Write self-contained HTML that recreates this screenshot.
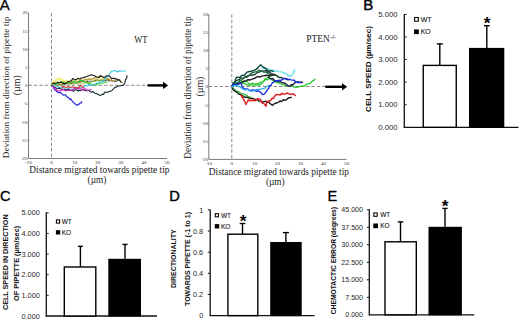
<!DOCTYPE html>
<html><head><meta charset="utf-8">
<style>
html,body{margin:0;padding:0;background:#fff;width:520px;height:320px;overflow:hidden}
svg{display:block}
.serif{font-family:"Liberation Serif",serif}
.sans{font-family:"Liberation Sans",sans-serif}
.tk{font-family:"Liberation Serif",serif;font-size:5px;fill:#333}
.bt{font-family:"Liberation Sans",sans-serif;font-size:7.4px;fill:#262626}
.lab{font-family:"Liberation Sans",sans-serif;font-weight:bold;fill:#111}
.leg{font-family:"Liberation Sans",sans-serif;font-size:7px;fill:#1a1a1a;stroke:#1a1a1a;stroke-width:0.12px}
.big{font-family:"Liberation Sans",sans-serif;font-size:14.6px;fill:#000}
.tr{fill:none;stroke-linejoin:round;stroke-linecap:round}
</style></head>
<body>
<svg width="520" height="320" viewBox="0 0 520 320">
<text class="big" x="-0.2" y="10.4" style="font-size:15px" stroke="#000" stroke-width="0.3">A</text>
<line x1="28.5" y1="12.7" x2="28.5" y2="158.5" stroke="#7a7a7a" stroke-width="1"/>
<line x1="28.5" y1="158.5" x2="167" y2="158.5" stroke="#7a7a7a" stroke-width="1"/>
<line x1="51.5" y1="13.2" x2="51.5" y2="158.5" stroke="#8a8a8a" stroke-width="1" stroke-dasharray="3.4,2"/>
<line x1="28.5" y1="85.3" x2="147.5" y2="85.3" stroke="#8a8a8a" stroke-width="1" stroke-dasharray="3.4,2"/>
<line x1="147.5" y1="85.4" x2="164.2" y2="85.4" stroke="#000" stroke-width="2.4"/>
<path d="M163.0,81.80000000000001 L168.2,85.4 L163.0,89.0 Z" fill="#000"/>
<text class="tk" x="27.6" y="14.3" text-anchor="end">20</text>
<text class="tk" x="27.6" y="32.5" text-anchor="end">15</text>
<line x1="28.5" y1="30.9" x2="29.7" y2="30.9" stroke="#888" stroke-width="0.6"/>
<text class="tk" x="27.6" y="50.8" text-anchor="end">10</text>
<line x1="28.5" y1="49.2" x2="29.7" y2="49.2" stroke="#888" stroke-width="0.6"/>
<text class="tk" x="27.6" y="69.0" text-anchor="end">5</text>
<line x1="28.5" y1="67.4" x2="29.7" y2="67.4" stroke="#888" stroke-width="0.6"/>
<text class="tk" x="27.6" y="87.2" text-anchor="end">0</text>
<line x1="28.5" y1="85.6" x2="29.7" y2="85.6" stroke="#888" stroke-width="0.6"/>
<text class="tk" x="27.6" y="105.4" text-anchor="end">-5</text>
<line x1="28.5" y1="103.8" x2="29.7" y2="103.8" stroke="#888" stroke-width="0.6"/>
<text class="tk" x="27.6" y="123.7" text-anchor="end">-10</text>
<line x1="28.5" y1="122.1" x2="29.7" y2="122.1" stroke="#888" stroke-width="0.6"/>
<text class="tk" x="27.6" y="141.9" text-anchor="end">-15</text>
<line x1="28.5" y1="140.3" x2="29.7" y2="140.3" stroke="#888" stroke-width="0.6"/>
<text class="tk" x="27.6" y="160.1" text-anchor="end">-20</text>
<text class="tk" x="28.5" y="163.7" text-anchor="middle">-10</text>
<text class="tk" x="51.6" y="163.7" text-anchor="middle">0</text>
<text class="tk" x="74.7" y="163.7" text-anchor="middle">10</text>
<text class="tk" x="97.8" y="163.7" text-anchor="middle">20</text>
<text class="tk" x="120.8" y="163.7" text-anchor="middle">30</text>
<text class="tk" x="143.9" y="163.7" text-anchor="middle">40</text>
<text class="tk" x="167.0" y="163.7" text-anchor="middle">50</text>
<polyline class="tr" stroke="#eeee78" stroke-width="2.15" points="52.0,84.5 52.6,83.6 54.3,81.1 55.2,80.4 56.7,80.0 58.6,78.4 60.6,79.6 61.8,79.4 62.7,81.5 63.7,82.8 65.8,81.5 66.2,82.7 68.0,83.0"/>
<polyline class="tr" stroke="#e8e070" stroke-width="1.05" points="52.0,84.0 52.9,83.9 54.8,84.0 55.8,82.3 57.6,82.6 58.5,82.2 59.9,82.0 61.0,80.9 63.3,81.0 64.0,81.6 65.9,80.3 67.2,81.1 68.2,80.9 69.6,80.2 71.0,79.9 73.4,80.2 74.8,80.2 75.8,80.9 77.3,79.4 78.7,80.3 79.7,79.3 81.8,80.0 82.5,79.8 84.0,80.3 85.7,79.0 87.5,78.9 88.3,78.7 90.3,78.8 91.5,78.7 92.8,79.7 94.3,79.2 95.7,79.1 97.2,78.4 98.5,78.6 100.4,79.8 101.0,78.4 103.1,79.3 103.8,79.6 106.2,79.1 107.0,79.5 109.0,79.0 110.0,79.5"/>
<polyline class="tr" stroke="#303030" stroke-width="0.95" points="52.0,85.0 53.5,85.3 55.1,84.3 55.4,85.3 57.0,84.4 58.8,83.9 60.2,84.4 60.6,85.1 62.5,83.4 64.1,84.6 65.3,84.3 67.0,83.0 68.4,84.0 69.0,83.8 70.5,83.7 72.4,83.3 73.1,82.9 74.8,83.4 76.9,83.4 77.9,82.1 79.5,82.1 81.3,81.8 82.6,81.4 83.9,81.9 85.1,81.8 86.2,81.7 88.2,81.4 89.1,82.1 90.4,81.2 92.2,81.3 93.2,81.6 95.0,80.3 96.3,80.1 97.7,80.0 99.0,80.7 100.9,80.1 102.1,80.3 103.7,80.9 104.7,80.5 106.5,80.9 108.1,79.4 108.8,81.0 110.5,80.8 111.7,80.8 113.5,80.8 114.5,81.7 117.0,81.1 118.5,79.8 120.0,80.0"/>
<polyline class="tr" stroke="#a0d030" stroke-width="0.95" points="52.0,85.0 53.3,85.6 54.3,84.5 56.7,85.1 57.1,84.4 59.3,84.5 59.8,85.3 61.3,84.7 63.2,84.3 65.0,83.7 66.0,83.5 67.7,83.5 68.6,84.7 70.4,83.3 71.8,84.5 72.5,84.3 73.8,83.1 75.1,83.3 77.2,83.5 78.7,84.2 79.2,83.2 80.4,83.4 82.4,83.3 83.2,83.3 84.6,83.6 86.3,82.1 88.2,83.3 88.9,83.1 90.2,82.2 91.9,82.4 92.7,80.8 94.2,81.2 96.2,81.6 96.8,81.4 98.3,79.9 100.0,81.2 102.1,80.1 103.7,79.3 105.0,79.5"/>
<polyline class="tr" stroke="#b08830" stroke-width="1.05" points="52.0,85.0 53.6,85.6 55.0,85.1 57.0,84.7 58.3,84.9 59.8,83.6 60.4,85.2 62.5,83.8 63.9,83.5 64.8,83.9 66.1,83.0 67.8,83.7 69.0,83.4 71.1,82.0 71.8,81.8 73.5,82.1 74.6,81.5 76.3,82.2 77.3,82.1 78.4,81.0 80.5,80.5 80.9,79.9 82.9,81.1 83.5,80.2 85.2,79.7 86.4,79.5 87.6,80.3 89.2,79.3 91.2,79.3 92.5,78.8 94.5,77.9 95.0,77.7 96.9,77.5 97.8,76.5 98.9,77.1 100.3,76.3 102.0,76.6 103.7,78.2 105.6,78.1 106.7,79.4 108.6,78.5 109.7,80.4 111.3,79.8 112.6,81.0 114.2,80.2 116.2,79.9 117.6,79.6 119.6,79.9 121.1,82.3 122.5,82.6"/>
<polyline class="tr" stroke="#2cc82c" stroke-width="1.05" points="52.0,84.0 52.9,83.7 54.4,83.6 55.7,84.2 57.4,83.8 59.1,83.2 60.0,82.3 61.8,82.1 62.9,82.2 64.7,82.6 66.0,82.7 67.8,83.3 68.7,83.0 70.4,82.6 72.1,81.6 72.8,82.0 74.5,81.4 76.0,82.3 78.5,82.0 80.1,81.0 81.4,80.8 82.8,80.8 85.0,81.8 86.4,82.5 87.1,83.4 88.7,83.2 89.9,83.4 91.9,84.6 92.6,84.8 94.7,84.8 96.0,84.7 98.1,83.7 98.8,83.7 100.3,83.2 102.4,83.1 103.8,82.7 104.6,82.3 107.0,81.9"/>
<polyline class="tr" stroke="#30c8e0" stroke-width="1.05" points="52.0,85.5 53.1,85.6 54.6,85.8 56.7,86.0 57.8,86.5 59.9,87.2 60.6,87.2 62.6,87.4 63.9,87.6 64.7,88.7 65.9,88.9 67.6,88.7 69.2,87.6 70.1,87.8 71.6,88.0 73.3,87.9 75.2,88.1 76.1,87.2 78.2,87.9 80.0,86.9 80.7,88.0 82.3,87.7 84.5,86.7 85.7,85.6 87.4,86.0 88.5,84.5 90.2,85.1 91.4,85.4 93.5,84.8 94.1,84.8 95.5,84.0 97.5,83.0 98.4,82.3 99.6,81.9 101.3,82.1 102.8,81.5 104.0,80.3 104.5,78.7 106.1,77.8 107.7,76.1 108.5,75.5 109.1,74.9 110.3,72.6 111.9,71.2 113.5,71.0 114.2,70.5 116.1,71.0 117.6,72.0 118.1,71.1 120.2,71.1 121.8,71.0 122.7,71.2 124.5,71.0 125.6,70.8"/>
<polyline class="tr" stroke="#1c2c34" stroke-width="1.15" points="52.0,86.0 53.2,86.6 54.7,87.2 56.3,88.3 57.9,88.4 59.4,88.1 61.4,89.4 62.7,89.0 63.9,89.8 66.2,89.6 67.1,89.7 69.1,89.2 70.4,90.4 72.3,90.6 73.7,91.2 75.3,89.7 76.4,89.8 78.4,91.1 79.1,90.0 80.5,90.6 82.2,89.3 83.8,89.5 84.8,90.6 87.1,90.8 88.8,90.7 89.5,90.8 91.6,92.4 92.7,91.4 94.9,93.2 96.3,93.5 97.2,93.9 98.6,94.8 100.7,95.4 102.7,94.0 103.5,94.4 104.9,92.0 107.2,92.2 109.0,91.6 110.3,91.2 112.0,90.4 113.0,89.3 114.8,87.3 116.0,87.1 118.1,86.2 119.9,85.8 121.0,85.7 122.3,85.4 123.8,84.9 124.4,83.8 125.2,82.2 125.3,80.2 126.7,78.2 127.0,75.6"/>
<polyline class="tr" stroke="#2020d8" stroke-width="1.15" points="52.0,86.0 53.4,87.0 54.3,89.3 54.8,90.1 55.8,90.2 57.3,92.1 58.6,92.7 60.3,92.5 61.9,93.6 63.3,95.2 65.2,94.7 66.4,96.2 67.5,97.4 68.3,97.4 70.1,99.7 70.9,99.0 72.3,101.1 74.2,103.2 76.0,104.4 76.5,105.1 78.0,104.9 78.9,104.3 80.2,102.8 81.4,102.8 81.8,101.8"/>
<polyline class="tr" stroke="#d020d0" stroke-width="1.15" points="52.0,86.0 53.2,86.4 53.6,87.8 55.3,88.6 56.8,90.2 57.7,91.2 59.2,90.8 60.8,90.9 61.9,89.6 63.0,89.6 65.6,91.0 66.9,90.5 68.2,90.4 69.8,90.2 72.3,89.9 74.3,88.7 75.2,87.9 77.7,88.5 78.1,89.0 79.5,87.9 81.9,89.9 82.8,90.1 84.0,89.0 86.0,89.1 86.5,90.1 88.3,90.0 90.1,89.9 91.0,89.7"/>
<polyline class="tr" stroke="#e02828" stroke-width="1.05" points="62.0,86.5 63.1,87.2 64.2,86.4 65.9,87.7 67.2,87.2 68.2,86.5 70.2,87.3 71.6,87.3 72.7,87.1 73.7,87.0 75.3,87.6 77.4,87.9 78.8,87.3 80.3,85.1 82.4,87.0 84.0,88.2"/>
<polyline class="tr" stroke="#202020" stroke-width="1.15" points="52.0,83.3 53.7,83.1 56.0,83.4 57.6,82.1 58.9,82.8 60.7,82.1 62.4,82.9 64.7,83.9 65.7,83.7 66.9,82.4 67.9,81.6 69.6,81.6 70.8,81.0 71.8,80.2 72.7,78.4 74.6,79.7 76.2,79.6 78.1,78.3 79.8,79.1 81.0,78.0 82.9,78.0 83.6,77.3 84.7,77.3 87.3,76.2 89.3,75.5 91.5,74.8 94.5,75.7 96.0,76.8 97.6,77.3 99.5,77.5 100.1,75.6 103.3,77.0 104.5,77.4 106.7,75.8 108.7,75.7 110.7,77.3 111.5,78.7 113.9,78.1 114.9,78.9 116.4,78.8 117.4,79.6 119.3,80.1 121.0,82.0"/>
<text class="serif" x="134.3" y="42.5" font-size="9.4" fill="#222" textLength="13.3" lengthAdjust="spacingAndGlyphs">WT</text>
<text class="serif" x="29.3" y="173" font-size="9.35" fill="#222">Distance migrated towards pipette tip</text>
<text class="serif" x="97" y="183.2" font-size="9.3" fill="#222" text-anchor="middle">(&#181;m)</text>
<text class="serif" transform="translate(8.7,87.4) rotate(-90)" font-size="9.27" fill="#222" text-anchor="middle">Deviation from direction of pipette tip</text>
<text class="serif" transform="translate(19.7,85.3) rotate(-90)" font-size="9.9" fill="#222" text-anchor="middle">(&#181;m)</text>
<line x1="208.8" y1="14" x2="208.8" y2="159.4" stroke="#7a7a7a" stroke-width="1"/>
<line x1="208.8" y1="159.4" x2="346.5" y2="159.4" stroke="#7a7a7a" stroke-width="1"/>
<line x1="231.8" y1="14.5" x2="231.8" y2="159.4" stroke="#8a8a8a" stroke-width="1" stroke-dasharray="3.4,2"/>
<line x1="208.8" y1="86.5" x2="325.2" y2="86.5" stroke="#8a8a8a" stroke-width="1" stroke-dasharray="3.4,2"/>
<line x1="325.2" y1="86.8" x2="343.2" y2="86.8" stroke="#000" stroke-width="2.4"/>
<path d="M342.0,83.2 L347.2,86.8 L342.0,90.39999999999999 Z" fill="#000"/>
<text class="tk" x="207.9" y="15.6" text-anchor="end">20</text>
<text class="tk" x="207.9" y="33.8" text-anchor="end">15</text>
<line x1="208.8" y1="32.2" x2="210.0" y2="32.2" stroke="#888" stroke-width="0.6"/>
<text class="tk" x="207.9" y="52.0" text-anchor="end">10</text>
<line x1="208.8" y1="50.4" x2="210.0" y2="50.4" stroke="#888" stroke-width="0.6"/>
<text class="tk" x="207.9" y="70.1" text-anchor="end">5</text>
<line x1="208.8" y1="68.5" x2="210.0" y2="68.5" stroke="#888" stroke-width="0.6"/>
<text class="tk" x="207.9" y="88.3" text-anchor="end">0</text>
<line x1="208.8" y1="86.7" x2="210.0" y2="86.7" stroke="#888" stroke-width="0.6"/>
<text class="tk" x="207.9" y="106.5" text-anchor="end">-5</text>
<line x1="208.8" y1="104.9" x2="210.0" y2="104.9" stroke="#888" stroke-width="0.6"/>
<text class="tk" x="207.9" y="124.7" text-anchor="end">-10</text>
<line x1="208.8" y1="123.1" x2="210.0" y2="123.1" stroke="#888" stroke-width="0.6"/>
<text class="tk" x="207.9" y="142.8" text-anchor="end">-15</text>
<line x1="208.8" y1="141.2" x2="210.0" y2="141.2" stroke="#888" stroke-width="0.6"/>
<text class="tk" x="207.9" y="161.0" text-anchor="end">-20</text>
<text class="tk" x="208.8" y="164.6" text-anchor="middle">-10</text>
<text class="tk" x="231.8" y="164.6" text-anchor="middle">0</text>
<text class="tk" x="254.7" y="164.6" text-anchor="middle">10</text>
<text class="tk" x="277.6" y="164.6" text-anchor="middle">20</text>
<text class="tk" x="300.6" y="164.6" text-anchor="middle">30</text>
<text class="tk" x="323.6" y="164.6" text-anchor="middle">40</text>
<text class="tk" x="346.5" y="164.6" text-anchor="middle">50</text>
<polyline class="tr" stroke="#60e0f0" stroke-width="1.30" points="262.0,68.0 263.5,68.0 265.1,68.2 266.5,69.7 267.7,69.1 269.6,69.1 270.7,70.5 273.1,70.0 274.1,71.3 275.8,70.9 277.6,71.2 279.4,71.8 280.8,71.9 282.0,72.2 282.9,72.1 284.0,73.7 285.5,73.2 287.0,74.3 288.2,75.4 289.8,76.5 291.2,75.6 292.4,74.8 293.1,73.7 293.5,72.6 293.9,71.1 294.7,69.8"/>
<polyline class="tr" stroke="#28c028" stroke-width="1.30" points="233.0,87.0 234.1,85.7 235.5,85.0 236.0,84.3 237.0,82.6 238.6,83.2 240.8,83.2 241.8,83.5 243.9,82.8 244.6,83.7 246.4,84.6 248.6,85.0 249.9,85.0 251.9,85.2 253.3,84.8 255.0,84.7 255.9,85.3 257.9,84.5 259.1,85.2 260.8,84.4 262.3,82.9 263.9,81.4 265.4,79.4 267.2,79.9 268.1,79.2 269.9,78.0 271.7,79.7 272.5,80.3 274.1,80.2 274.8,81.5 276.3,82.4 277.8,82.5 279.8,83.6 281.3,83.9 282.2,84.7 283.3,84.8 284.7,85.1 286.2,85.9 287.7,85.4 289.1,86.0 290.1,86.5 291.7,85.5 293.0,86.1 294.3,87.2 296.3,87.4 297.8,86.9 299.1,86.9 301.0,86.0 302.8,86.1 303.7,86.2 305.2,85.7 306.4,84.1 308.8,83.8 310.7,82.8 311.8,81.5 313.4,80.7 315.0,79.2"/>
<polyline class="tr" stroke="#3cc83c" stroke-width="1.30" points="236.0,83.0 237.6,83.3 239.1,82.0 240.9,81.6 242.2,82.3 243.7,81.1 245.3,81.1 246.7,81.5 248.1,82.8 249.6,83.9 251.2,83.6 252.5,83.2 254.1,83.8 255.2,84.1 257.2,83.4 258.4,83.8 259.2,83.3 260.4,81.8 262.3,82.6 263.0,81.7 264.1,80.5 265.0,78.9 266.9,78.1 268.0,77.5 269.7,76.6 270.9,76.1 272.6,74.7 274.1,74.9 275.0,74.7 276.8,75.7 278.0,76.0"/>
<polyline class="tr" stroke="#1a3a36" stroke-width="1.30" points="233.0,84.0 233.6,83.1 235.4,81.5 236.3,80.5 236.9,80.6 238.2,79.8 239.3,79.5 241.0,77.8 242.0,78.1 243.7,77.8 245.1,76.8 245.9,76.4 247.5,77.0 248.9,75.6 250.1,75.4 250.8,74.9 252.2,75.4 253.5,74.6 255.2,74.5 256.5,73.1 257.9,72.4 259.3,72.2 261.0,70.7 262.4,71.1 263.4,71.2 264.5,70.9 266.1,70.6 267.6,72.0 268.5,72.0 270.3,72.7 271.1,73.7 272.3,73.8 273.8,75.1 275.6,74.9 276.8,75.9 277.5,76.6 279.2,77.3 280.0,77.8 281.4,77.3 282.8,78.6 284.5,78.5 285.1,78.6 286.5,79.3 288.0,80.0"/>
<polyline class="tr" stroke="#38b838" stroke-width="1.30" points="233.0,88.0 234.7,89.7 236.7,91.3 238.3,91.5 239.6,92.4 241.1,93.5 243.6,94.2 245.8,95.1 246.6,95.1 247.7,96.5 249.6,97.0 250.9,97.5"/>
<polyline class="tr" stroke="#104a40" stroke-width="1.40" points="231.9,86.3 232.9,84.4 233.0,82.9 234.2,82.5 235.0,81.0 235.3,79.9 235.8,78.5 237.1,77.1 239.3,77.4 240.6,76.8 241.6,75.5 243.9,75.3 244.9,74.8 245.7,73.7 247.1,72.1 249.2,71.5 251.5,71.3 253.8,70.5 256.1,69.4 257.9,67.9 258.9,66.5 260.8,64.7 262.1,66.4 264.4,67.7 265.5,68.4 266.6,68.9 267.3,70.4 268.7,71.2 270.9,70.7 273.3,71.4"/>
<polyline class="tr" stroke="#1e6a3a" stroke-width="1.30" points="231.9,86.3 233.6,85.1 234.5,84.1 235.6,83.3 237.5,82.7 238.6,82.5 239.5,80.7 240.2,80.2 241.9,80.0 243.8,78.3 244.6,77.5 246.6,77.3 247.4,75.7 248.7,75.5 250.4,74.1 251.5,73.1 252.7,72.6 253.9,72.3 255.2,71.9 256.5,71.7 257.5,71.5 258.9,70.1 260.1,70.9 261.8,71.1 264.0,72.2 265.9,72.1 267.3,72.9 268.6,73.8 270.4,75.1 271.5,75.5 273.7,75.0 274.9,74.5"/>
<polyline class="tr" stroke="#202020" stroke-width="1.40" points="232.0,86.0 233.3,84.9 234.9,84.6 236.2,83.9 237.1,84.2 238.8,84.1 239.9,82.7 241.2,82.8 242.9,81.6 244.2,81.3 245.1,81.3 246.5,80.6 247.8,79.7 249.5,80.0 251.8,79.4 253.4,78.6 255.0,78.2 256.7,76.9 258.3,76.8 260.4,77.0 262.0,75.9 264.2,75.7 266.7,75.3 268.8,75.8 270.9,75.0 272.4,74.6 274.4,74.5"/>
<polyline class="tr" stroke="#20204a" stroke-width="1.40" points="268.5,77.0 269.6,78.3 271.1,78.9 272.8,78.5 274.4,80.4 275.9,81.0 277.6,81.0 279.3,81.9 280.9,81.7 282.1,82.7 283.9,83.0 285.5,83.5 286.8,85.0 288.4,85.8 289.7,86.3 291.5,84.6 293.0,84.7 294.9,82.7 296.1,82.4 297.7,81.7 299.1,82.3 301.3,82.5 302.5,82.3"/>
<polyline class="tr" stroke="#2030e0" stroke-width="1.40" points="231.9,86.3 233.8,84.4 235.9,84.7 238.4,83.8 240.8,83.0 241.6,84.8 242.0,86.8 243.4,88.1 245.2,89.1 247.2,89.0 248.5,89.6 249.6,90.7 251.2,90.3 253.6,90.0 255.0,90.6 256.5,91.4 257.7,90.7 259.2,91.4 260.9,92.4 262.2,94.5 264.0,94.2 265.6,92.7 266.6,91.0 268.2,88.9 268.8,88.0 269.4,85.9 270.8,85.3 272.3,82.9 274.5,81.4 276.0,80.7 277.9,81.0 279.2,80.2 280.7,80.6 282.8,79.0 285.0,78.3 287.1,78.9 288.4,79.5 289.9,79.4 291.2,79.9 294.2,80.3 296.0,82.0 298.4,82.7 300.9,82.3"/>
<polyline class="tr" stroke="#30b0e8" stroke-width="1.30" points="231.9,86.3 232.9,86.4 234.6,85.6 237.0,85.6 238.3,86.3 240.4,87.2 241.6,88.1 243.5,89.4 245.3,90.0 246.4,89.7 248.5,89.6 249.5,90.6 251.8,91.1 253.0,91.1 254.4,90.2 255.6,89.8 257.3,89.3 259.3,89.3 260.4,89.4 261.8,88.7 264.0,88.7 265.4,87.4 266.9,86.3 268.6,85.5"/>
<polyline class="tr" stroke="#202020" stroke-width="1.40" points="232.0,88.0 233.1,89.5 234.2,90.7 235.0,91.0 235.8,91.7 237.8,93.0 239.2,94.4 239.9,94.3 241.8,95.5 242.7,95.8 244.1,97.0 245.3,97.3 246.6,97.1 248.5,97.8 249.8,98.4 251.2,98.6 252.2,98.2 253.6,98.9 255.2,99.5 256.4,99.4 257.9,99.9 258.6,101.0 260.0,101.1 261.9,101.4 263.0,102.1 264.1,101.6 266.0,101.2 267.1,102.4 268.3,102.0 270.5,103.9 272.7,105.3 274.3,103.7 276.3,103.0 278.0,102.3 278.9,101.9 280.4,100.9 281.6,101.6 283.2,99.8 284.8,100.2 285.9,100.0 287.3,98.9 289.2,97.7 291.3,97.5"/>
<polyline class="tr" stroke="#e02020" stroke-width="1.45" points="241.0,95.0 241.4,96.0 242.8,98.1 243.7,99.6 243.8,99.9 245.2,102.4 245.9,104.5 247.0,102.5 248.3,99.9 249.5,100.7 250.9,100.3 252.6,100.5 253.4,100.3 255.3,100.7 256.4,99.9 257.4,98.7 259.0,99.2 260.4,99.3 260.6,100.3 261.7,102.3 263.1,103.3 264.3,103.8 266.0,106.3 266.7,103.0 268.1,101.2 270.5,100.5 272.2,98.3 273.4,98.5 274.8,96.2 275.1,95.2 276.5,94.7 278.1,94.4 279.5,94.9 280.3,94.9 281.9,93.4 283.4,94.2 284.7,93.9 285.8,94.0 287.3,92.9 288.5,93.6 289.7,94.0 291.0,94.6 292.7,93.7 293.9,94.4 295.3,95.5"/>
<text class="serif" x="306.3" y="41.9" font-size="9.4" fill="#222">PTEN</text>
<text class="serif" x="330.2" y="39.2" font-size="6" fill="#222" stroke="#222" stroke-width="0.15">-/-</text>
<text class="serif" x="208.8" y="175.4" font-size="9.35" fill="#222">Distance migrated towards pipette tip</text>
<text class="serif" x="275.3" y="185.2" font-size="9.3" fill="#222" text-anchor="middle">(&#181;m)</text>
<text class="serif" transform="translate(190.6,87.6) rotate(-90)" font-size="9.3" fill="#222" text-anchor="middle">Deviation from direction of pipette tip</text>
<text class="serif" transform="translate(202.6,86.6) rotate(-90)" font-size="9.9" fill="#222" text-anchor="middle">(&#181;m)</text>

<!-- panel B -->
<text class="big" x="363.3" y="10.4" stroke="#000" stroke-width="0.45" style="font-size:15px">B</text>
<line x1="404.3" y1="13.9" x2="404.3" y2="127.8" stroke="#111" stroke-width="1.3"/>
<line x1="403.8" y1="127.3" x2="518.5" y2="127.3" stroke="#111" stroke-width="1.3"/>
<text class="bt" x="397.6" y="130.06" text-anchor="end" style="font-size:7.7px">0.000</text>
<line x1="404.3" y1="104.72" x2="406.70" y2="104.72" stroke="#1a1a1a" stroke-width="1"/>
<text class="bt" x="397.6" y="107.48" text-anchor="end" style="font-size:7.7px">1.000</text>
<line x1="404.3" y1="82.14" x2="406.70" y2="82.14" stroke="#1a1a1a" stroke-width="1"/>
<text class="bt" x="397.6" y="84.90" text-anchor="end" style="font-size:7.7px">2.000</text>
<line x1="404.3" y1="59.56" x2="406.70" y2="59.56" stroke="#1a1a1a" stroke-width="1"/>
<text class="bt" x="397.6" y="62.32" text-anchor="end" style="font-size:7.7px">3.000</text>
<line x1="404.3" y1="36.98" x2="406.70" y2="36.98" stroke="#1a1a1a" stroke-width="1"/>
<text class="bt" x="397.6" y="39.74" text-anchor="end" style="font-size:7.7px">4.000</text>
<line x1="404.3" y1="14.40" x2="406.70" y2="14.40" stroke="#1a1a1a" stroke-width="1"/>
<text class="bt" x="397.6" y="17.16" text-anchor="end" style="font-size:7.7px">5.000</text>
<text class="lab" transform="translate(370.8,69) rotate(-90)" font-size="8.1" text-anchor="middle">CELL SPEED (&#181;m/sec)</text>
<line x1="439.8" y1="65.4" x2="439.8" y2="43.9" stroke="#000" stroke-width="1.4"/>
<line x1="436.8" y1="43.9" x2="442.8" y2="43.9" stroke="#000" stroke-width="1.4"/>
<rect x="423.25" y="65.4" width="33.0" height="61.89999999999999" fill="#fff" stroke="#000" stroke-width="1.4"/>
<line x1="486.8" y1="47.9" x2="486.8" y2="25.7" stroke="#000" stroke-width="1.4"/>
<line x1="483.90000000000003" y1="25.7" x2="489.7" y2="25.7" stroke="#000" stroke-width="1.4"/>
<rect x="469" y="47.9" width="35.30000000000001" height="79.9" fill="#000"/>
<text class="sans" x="483.85" y="28.90" font-size="17.3" font-weight="bold" fill="#000">*</text>
<rect x="414.6" y="17.5" width="3.7" height="3.7" fill="#fff" stroke="#000" stroke-width="1.05"/>
<text class="leg" x="420.7" y="21.86" style="font-size:7.0px">WT</text>
<rect x="414.1" y="29.4" width="4.7" height="4.7" fill="#000"/>
<text class="leg" x="420.7" y="34.26" style="font-size:7.0px">KO</text>

<!-- panel C -->
<text class="big" x="-0.1" y="200.7" stroke="#000" stroke-width="0.3">C</text>
<line x1="46.3" y1="212.3" x2="46.3" y2="316.5" stroke="#111" stroke-width="1.3"/>
<line x1="45.8" y1="316" x2="157" y2="316" stroke="#111" stroke-width="1.3"/>
<text class="bt" x="39.8" y="318.61" text-anchor="end" style="font-size:7.3px">0.000</text>
<line x1="46.3" y1="295.36" x2="48.70" y2="295.36" stroke="#1a1a1a" stroke-width="1"/>
<text class="bt" x="39.8" y="297.97" text-anchor="end" style="font-size:7.3px">1.000</text>
<line x1="46.3" y1="274.72" x2="48.70" y2="274.72" stroke="#1a1a1a" stroke-width="1"/>
<text class="bt" x="39.8" y="277.33" text-anchor="end" style="font-size:7.3px">2.000</text>
<line x1="46.3" y1="254.08" x2="48.70" y2="254.08" stroke="#1a1a1a" stroke-width="1"/>
<text class="bt" x="39.8" y="256.69" text-anchor="end" style="font-size:7.3px">3.000</text>
<line x1="46.3" y1="233.44" x2="48.70" y2="233.44" stroke="#1a1a1a" stroke-width="1"/>
<text class="bt" x="39.8" y="236.05" text-anchor="end" style="font-size:7.3px">4.000</text>
<line x1="46.3" y1="212.80" x2="48.70" y2="212.80" stroke="#1a1a1a" stroke-width="1"/>
<text class="bt" x="39.8" y="215.41" text-anchor="end" style="font-size:7.3px">5.000</text>
<text class="lab" transform="translate(8.2,262.2) rotate(-90)" font-size="7.2" text-anchor="middle">CELL SPEED IN DIRECTION</text>
<text class="lab" transform="translate(19.2,263.4) rotate(-90)" font-size="7.4" text-anchor="middle">OF PIPETTE (&#181;m/sec)</text>
<line x1="80.4" y1="267" x2="80.4" y2="246.3" stroke="#000" stroke-width="1.4"/>
<line x1="78.0" y1="246.3" x2="82.80000000000001" y2="246.3" stroke="#000" stroke-width="1.4"/>
<rect x="64.3" y="267" width="31.5" height="49" fill="#fff" stroke="#000" stroke-width="1.4"/>
<line x1="125" y1="258.8" x2="125" y2="244.4" stroke="#000" stroke-width="1.4"/>
<line x1="122.4" y1="244.4" x2="127.6" y2="244.4" stroke="#000" stroke-width="1.4"/>
<rect x="108.3" y="258.8" width="32.7" height="57.69999999999999" fill="#000"/>
<rect x="56.4" y="219.9" width="3.2" height="3.2" fill="#fff" stroke="#000" stroke-width="1.05"/>
<text class="leg" x="61.7" y="223.83" style="font-size:6.5px">WT</text>
<rect x="55.9" y="230.2" width="4.3" height="4.3" fill="#000"/>
<text class="leg" x="61.7" y="234.68" style="font-size:6.5px">KO</text>

<!-- panel D -->
<text class="big" x="169.2" y="200.7" stroke="#000" stroke-width="0.45">D</text>
<line x1="210.2" y1="209.4" x2="210.2" y2="316.1" stroke="#111" stroke-width="1.3"/>
<line x1="209.7" y1="315.6" x2="314.5" y2="315.6" stroke="#111" stroke-width="1.3"/>
<text class="bt" x="203.2" y="318.21" text-anchor="end" style="font-size:7.3px">0</text>
<line x1="210.2" y1="294.46" x2="207.80" y2="294.46" stroke="#1a1a1a" stroke-width="1"/>
<text class="bt" x="203.2" y="297.07" text-anchor="end" style="font-size:7.3px">0.2</text>
<line x1="210.2" y1="273.32" x2="207.80" y2="273.32" stroke="#1a1a1a" stroke-width="1"/>
<text class="bt" x="203.2" y="275.93" text-anchor="end" style="font-size:7.3px">0.4</text>
<line x1="210.2" y1="252.18" x2="207.80" y2="252.18" stroke="#1a1a1a" stroke-width="1"/>
<text class="bt" x="203.2" y="254.79" text-anchor="end" style="font-size:7.3px">0.6</text>
<line x1="210.2" y1="231.04" x2="207.80" y2="231.04" stroke="#1a1a1a" stroke-width="1"/>
<text class="bt" x="203.2" y="233.65" text-anchor="end" style="font-size:7.3px">0.8</text>
<line x1="210.2" y1="209.90" x2="207.80" y2="209.90" stroke="#1a1a1a" stroke-width="1"/>
<text class="bt" x="203.2" y="212.51" text-anchor="end" style="font-size:7.3px">1</text>
<text class="lab" transform="translate(176.4,258.6) rotate(-90)" font-size="7" text-anchor="middle">DIRECTIONALITY</text>
<text class="lab" transform="translate(189.6,259) rotate(-90)" font-size="7" text-anchor="middle">TOWARDS PIPETTE (-1 to 1)</text>
<line x1="242.5" y1="234.2" x2="242.5" y2="223.5" stroke="#000" stroke-width="1.4"/>
<line x1="239.7" y1="223.5" x2="245.3" y2="223.5" stroke="#000" stroke-width="1.4"/>
<rect x="227.9" y="234.2" width="29.900000000000006" height="81.40000000000003" fill="#fff" stroke="#000" stroke-width="1.4"/>
<line x1="285.9" y1="242" x2="285.9" y2="232.6" stroke="#000" stroke-width="1.4"/>
<line x1="282.9" y1="232.6" x2="288.9" y2="232.6" stroke="#000" stroke-width="1.4"/>
<rect x="270.2" y="242" width="31.5" height="74.10000000000002" fill="#000"/>
<text class="sans" x="239.75" y="226.50" font-size="17.3" font-weight="bold" fill="#000">*</text>
<rect x="215.3" y="213.7" width="3.0999999999999996" height="3.0999999999999996" fill="#fff" stroke="#000" stroke-width="1.05"/>
<text class="leg" x="220.9" y="217.58" style="font-size:6.5px">WT</text>
<rect x="214.8" y="224.1" width="4.4" height="4.4" fill="#000"/>
<text class="leg" x="220.9" y="228.63" style="font-size:6.5px">KO</text>

<!-- panel E -->
<text class="big" x="327.4" y="200.9" stroke="#000" stroke-width="0.3">E</text>
<line x1="369.3" y1="209.3" x2="369.3" y2="315.3" stroke="#111" stroke-width="1.3"/>
<line x1="368.8" y1="314.8" x2="474.3" y2="314.8" stroke="#111" stroke-width="1.3"/>
<text class="bt" x="363" y="317.34" text-anchor="end" style="font-size:7.1px">0.000</text>
<line x1="369.3" y1="297.30" x2="366.90" y2="297.30" stroke="#1a1a1a" stroke-width="1"/>
<text class="bt" x="363" y="299.84" text-anchor="end" style="font-size:7.1px">7.500</text>
<line x1="369.3" y1="279.80" x2="366.90" y2="279.80" stroke="#1a1a1a" stroke-width="1"/>
<text class="bt" x="363" y="282.34" text-anchor="end" style="font-size:7.1px">15.000</text>
<line x1="369.3" y1="262.30" x2="366.90" y2="262.30" stroke="#1a1a1a" stroke-width="1"/>
<text class="bt" x="363" y="264.84" text-anchor="end" style="font-size:7.1px">22.500</text>
<line x1="369.3" y1="244.80" x2="366.90" y2="244.80" stroke="#1a1a1a" stroke-width="1"/>
<text class="bt" x="363" y="247.34" text-anchor="end" style="font-size:7.1px">30.000</text>
<line x1="369.3" y1="227.30" x2="366.90" y2="227.30" stroke="#1a1a1a" stroke-width="1"/>
<text class="bt" x="363" y="229.84" text-anchor="end" style="font-size:7.1px">37.500</text>
<line x1="369.3" y1="209.80" x2="366.90" y2="209.80" stroke="#1a1a1a" stroke-width="1"/>
<text class="bt" x="363" y="212.34" text-anchor="end" style="font-size:7.1px">45.000</text>
<text class="lab" transform="translate(335.5,260.6) rotate(-90)" font-size="6.73" text-anchor="middle">CHEMOTACTIC ERROR (degrees)</text>
<line x1="400.5" y1="241.8" x2="400.5" y2="221.9" stroke="#000" stroke-width="1.4"/>
<line x1="397.7" y1="221.9" x2="403.3" y2="221.9" stroke="#000" stroke-width="1.4"/>
<rect x="385" y="241.8" width="31.30000000000001" height="73.0" fill="#fff" stroke="#000" stroke-width="1.4"/>
<line x1="445" y1="226.8" x2="445" y2="208.4" stroke="#000" stroke-width="1.4"/>
<line x1="442.35" y1="208.4" x2="447.65" y2="208.4" stroke="#000" stroke-width="1.4"/>
<rect x="428.5" y="226.8" width="33.39999999999998" height="88.5" fill="#000"/>
<text class="sans" x="441.85" y="211.50" font-size="17.3" font-weight="bold" fill="#000">*</text>
<rect x="373.8" y="212.9" width="3.4000000000000004" height="3.4000000000000004" fill="#fff" stroke="#000" stroke-width="1.05"/>
<text class="leg" x="380.2" y="216.93" style="font-size:6.5px">WT</text>
<rect x="373.3" y="223.5" width="4.7" height="4.7" fill="#000"/>
<text class="leg" x="380.2" y="228.18" style="font-size:6.5px">KO</text>
</svg>
</body></html>
